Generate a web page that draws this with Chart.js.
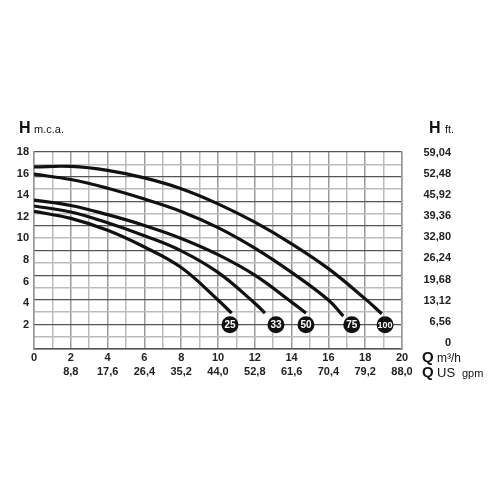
<!DOCTYPE html>
<html>
<head>
<meta charset="utf-8">
<script src="https://cdn.jsdelivr.net/npm/chart.js@4/dist/chart.umd.min.js"></script>
<style>
  html, body { margin: 0; padding: 0; background: #fff; }
  #wrap { width: 500px; height: 500px; }
</style>
</head>
<body>
<div id="wrap"><canvas id="pumpChart" width="500" height="500"></canvas></div>
<script>
// axis labels
const hTicks = [2, 4, 6, 8, 10, 12, 14, 16, 18];
const ftTicks = ["0", "6,56", "13,12", "19,68", "26,24", "32,80", "39,36", "45,92", "52,48", "59,04"];
const gpmTicks = ["", "8,8", "17,6", "26,4", "35,2", "44,0", "52,8", "61,6", "70,4", "79,2", "88,0"];

// pump curves (Q m3/h, H m.c.a.)
const curveNames = ["25", "33", "50", "75", "100"];
const q25 = [0, 2, 4, 6, 8, 10, 10.74];
const h25 = [12.5, 11.85, 10.75, 9.2, 7.3, 4.3, 3.08];
const q33 = [0, 2, 4, 6, 8, 10, 12, 12.55];
const h33 = [13.0, 12.45, 11.45, 10.25, 8.85, 6.85, 4.0, 3.08];
const q50 = [0, 2, 4, 6, 8, 10, 12, 14, 14.78];
const h50 = [13.55, 13.05, 12.2, 11.2, 10.0, 8.5, 6.6, 4.1, 3.08];
const q75 = [0, 2, 4, 6, 8, 10, 12, 14, 16, 16.81];
const h75 = [15.95, 15.45, 14.65, 13.65, 12.5, 11.0, 9.1, 6.85, 4.3, 2.8];
const q100 = [0, 2, 4, 6, 8, 10, 12, 14, 16, 18, 18.9];
const h100 = [16.62, 16.66, 16.3, 15.6, 14.6, 13.2, 11.5, 9.5, 7.2, 4.4, 3.02];

// round badges under each curve end
const markerQ = [10.65, 13.15, 14.78, 17.27, 19.08];
const markerH = [2, 2, 2, 2, 2];

const FONT = "'Liberation Sans', Arial, sans-serif";

function pts(q, h) {
  return q.map((x, i) => ({ x: x, y: h[i] }));
}

function curve(name, q, h) {
  return {
    label: name,
    data: pts(q, h),
    showLine: true,
    borderColor: "#111",
    borderWidth: 3.2,
    pointRadius: 0,
    fill: false,
    tension: 0.4,
    borderCapStyle: "butt",
  };
}

const overlay = {
  id: "overlay",
  afterDatasetsDraw(chart) {
    const ctx = chart.ctx;
    ctx.save();
    // numbers inside badges
    const meta = chart.getDatasetMeta(5);
    ctx.fillStyle = "#fff";
    ctx.textAlign = "center";
    ctx.textBaseline = "middle";
    meta.data.forEach((pt, i) => {
      ctx.font = "bold " + (curveNames[i].length > 2 ? 9 : 10) + "px " + FONT;
      ctx.fillText(curveNames[i], pt.x, pt.y + 0.5);
    });

    // axis titles
    ctx.fillStyle = "#111";
    ctx.textAlign = "left";
    ctx.font = "bold 16px " + FONT;
    ctx.fillText("H", 19, 129);
    ctx.fillText("H", 429, 129);
    ctx.font = "11px " + FONT;
    ctx.fillText("m.c.a.", 34, 130);
    ctx.fillText("ft.", 445, 130);

    ctx.font = "bold 15px " + FONT;
    ctx.fillText("Q", 422, 358);
    ctx.fillText("Q", 422, 373);
    ctx.font = "12px " + FONT;
    ctx.fillText("m\u00b3/h", 437, 359);
    ctx.font = "13px " + FONT;
    ctx.fillText("US", 437, 373);
    ctx.font = "11px " + FONT;
    ctx.fillText("gpm", 462, 374);
    ctx.restore();
  },
};

const ctx = document.getElementById("pumpChart").getContext("2d");

const pumpChart = new Chart(ctx, {
  type: "scatter",
  data: {
    datasets: [
      curve("25", q25, h25),
      curve("33", q33, h33),
      curve("50", q50, h50),
      curve("75", q75, h75),
      curve("100", q100, h100),
      {
        label: "markers",
        data: pts(markerQ, markerH),
        showLine: false,
        pointRadius: 8.5,
        pointBackgroundColor: "#111",
        pointBorderColor: "#111",
        pointBorderWidth: 0,
      },
    ],
  },
  options: {
    responsive: false,
    animation: false,
    devicePixelRatio: 1,
    layout: { padding: { left: 0, right: 49, top: 152, bottom: 121 } },
    plugins: { legend: { display: false }, tooltip: { enabled: false } },
    scales: {
      x: {
        type: "linear",
        min: 0,
        max: 20,
        afterFit: (s) => { s.height = 30; },
        ticks: {
          stepSize: 1,
          autoSkip: false,
          maxRotation: 0,
          padding: 2,
          color: "#222",
          font: { family: FONT, size: 11, weight: "bold", lineHeight: 1.3 },
          callback: (v) => (v % 2 === 0 ? [String(v), gpmTicks[v / 2]] : ""),
        },
        grid: {
          drawTicks: false,
          color: (c) => (c.tick && c.tick.value % 2 === 0 ? "#999" : "#bbb"),
          lineWidth: 1.5,
        },
        border: { color: "#555", width: 1.5 },
      },
      y: {
        type: "linear",
        position: "left",
        min: -0.24,
        max: 18,
        afterFit: (s) => { s.width = 34; },
        afterBuildTicks: (s) => { s.ticks = hTicks.map((v) => ({ value: v })); },
        ticks: {
          padding: 5,
          color: "#222",
          font: { family: FONT, size: 11, weight: "bold" },
        },
        grid: { display: false, drawTicks: false },
        border: { color: "#999", width: 1.5 },
      },
      yg: {
        type: "linear",
        position: "left",
        min: 0,
        max: 16,
        afterFit: (s) => { s.width = 0; },
        ticks: { stepSize: 1, display: false },
        grid: {
          drawTicks: false,
          color: (c) => (c.tick && c.tick.value % 2 === 0 ? "#555" : "#bbb"),
          lineWidth: (c) => (c.tick && c.tick.value % 2 === 0 ? 1.2 : 1.5),
        },
        border: { display: false },
      },
      y2: {
        type: "linear",
        position: "right",
        min: -0.57,
        max: 18.05,
        afterFit: (s) => { s.width = 49; },
        afterBuildTicks: (s) => { s.ticks = ftTicks.map((t, i) => ({ value: i * 2 })); },
        ticks: {
          crossAlign: "far",
          color: "#222",
          font: { family: FONT, size: 11, weight: "bold" },
          callback: (v) => ftTicks[Math.round(v / 2)],
        },
        grid: { display: false, drawTicks: false },
        border: { color: "#999", width: 1.5 },
      },
    },
  },
  plugins: [overlay],
});
</script>
</body>
</html>
